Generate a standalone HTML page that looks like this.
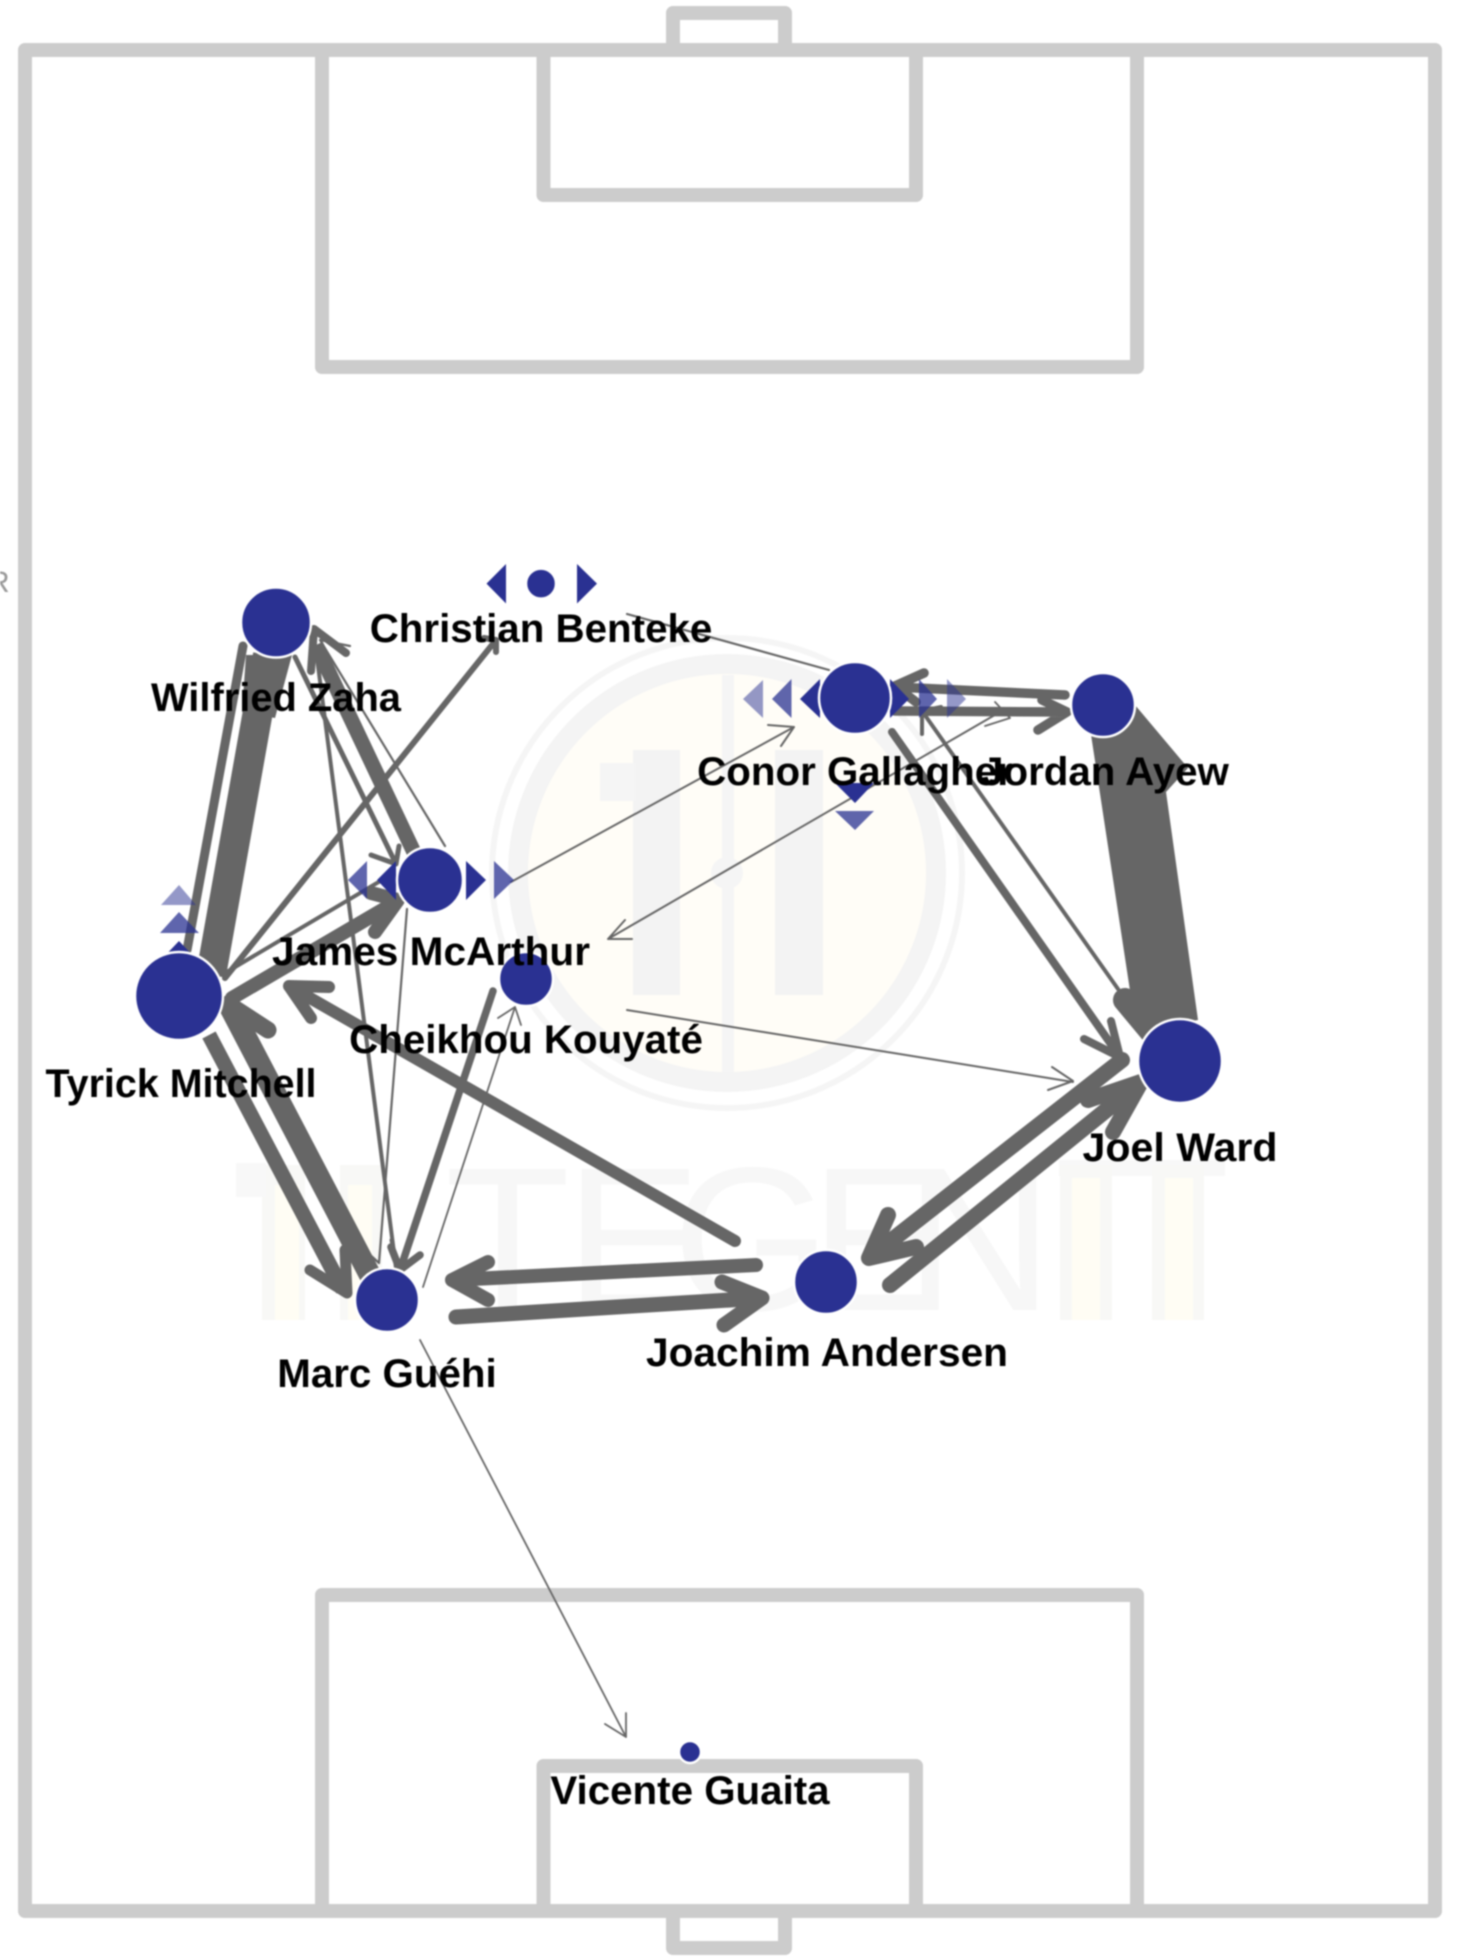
<!DOCTYPE html>
<html lang="en">
<head>
<meta charset="utf-8">
<title>Passing network</title>
<style>
html,body{margin:0;padding:0;background:#fff;width:1460px;height:1958px;overflow:hidden}
svg{display:block;filter:blur(.8px)}
.l{fill:none;stroke:#666;stroke-linecap:round;stroke-linejoin:round}
.f{fill:none;stroke:#ccc;stroke-width:14;stroke-linejoin:round;stroke-linecap:round}
.t{fill:#2a3192}
.n{fill:#2a3192;stroke:#fff;stroke-width:2.5}
.lb{font:bold 40.3px "Liberation Sans",Arial,sans-serif;fill:#000;text-anchor:middle}
.w{font:205px "Liberation Sans",Arial,sans-serif;fill:#f7f7f7}
</style>
</head>
<body>
<svg width="1460" height="1958" viewBox="0 0 1460 1958" xmlns="http://www.w3.org/2000/svg">
<rect width="1460" height="1958" fill="#fff"/>

<!-- watermark -->
<circle cx="727" cy="873" r="235" fill="none" stroke="#f5f5f5" stroke-width="6"/>
<circle cx="727" cy="873" r="209" fill="#fffdf7" stroke="#f4f4f4" stroke-width="20"/>
<rect x="722" y="675" width="12" height="397" fill="#f5f5f5"/>
<circle cx="727" cy="873" r="16" fill="#f5f5f5"/>
<rect x="633" y="750" width="47" height="245" fill="#f3f3f3"/>
<rect x="600" y="763" width="35" height="38" fill="#f5f5f5"/>
<rect x="775" y="750" width="48" height="245" fill="#f3f3f3"/>
<g>
<rect x="262" y="1165" width="43" height="155" fill="#f8f8f6"/><rect x="275" y="1185" width="24" height="135" fill="#fffdf4"/>
<rect x="340" y="1165" width="42" height="155" fill="#f8f8f6"/><rect x="348" y="1185" width="24" height="135" fill="#fffdf4"/>
<rect x="236" y="1163" width="30" height="34" fill="#f8f8f8"/>
<rect x="1059" y="1160" width="166" height="16" fill="#f8f8f8"/>
<rect x="1060" y="1165" width="52" height="155" fill="#f8f8f6"/><rect x="1072" y="1178" width="28" height="142" fill="#fffdf4"/>
<rect x="1152" y="1165" width="52" height="155" fill="#f8f8f6"/><rect x="1165" y="1178" width="28" height="142" fill="#fffdf4"/>
</g>
<text class="w" x="445" y="1310">T</text>
<text class="w" x="565" y="1310">E</text>
<text class="w" x="672" y="1310">G</text>
<text class="w" x="810" y="1310">E</text>
<text class="w" x="905" y="1310">N</text>

<!-- pitch -->
<text x="-12" y="592" font-family="Liberation Sans, sans-serif" font-size="30" fill="#999">R</text>
<g class="f">
<rect x="25" y="50" width="1410" height="1861"/>
<path d="M322 50V367H1137V50"/>
<path d="M543.5 50V195H916V50"/>
<path d="M673 50V13H785V50"/>
<path d="M322 1911V1595H1137V1911"/>
<path d="M543.5 1911V1766H916V1911"/>
<path d="M673 1911V1948H785V1911"/>
</g>

<!-- edges -->
<g class="l">
<!-- Mitchell / Zaha -->
<path stroke-width="30" stroke-linecap="butt" d="M211 975L268 655"/>
<path stroke-width="9" d="M243 646L187 950"/>
<!-- McArthur / Zaha -->
<path stroke-width="15" stroke-linecap="butt" d="M420 865L316 645"/>
<path stroke-width="8" d="M346 653L314 629L311 671"/>
<path stroke-width="5" d="M295 657L396 864M371 855L396 864L399 846"/>
<path stroke-width="2.2" d="M445 846L320 640M350 646L320 640"/>
<!-- Zaha -> Guehi -->
<path stroke-width="4" d="M316 650L396 1268"/>
<path stroke-width="3" d="M396 1268L391 1240"/>
<!-- McArthur -> Guehi -->
<path stroke-width="2.2" d="M407 909L379 1263M368 1253L379 1263"/>
<!-- Kouyate -> Guehi -->
<path stroke-width="7.5" d="M493 991L400 1270M391 1247L400 1270L420 1255"/>
<!-- Guehi -> Kouyate -->
<path stroke-width="1.8" d="M423 1287L515 1007M498 1018L515 1007L521 1025"/>
<!-- Andersen -> Mitchell -->
<path stroke-width="12" d="M735 1241L289 986M329 987L289 986L311 1018"/>
<!-- Guehi / Mitchell -->
<path stroke-width="22" stroke-linecap="butt" d="M371 1277L229 1005"/>
<path stroke-width="17" d="M268 1030L228 1004"/>
<path stroke-width="15" stroke-linecap="butt" d="M209 1035L343 1290"/>
<path stroke-width="11" d="M310 1270L347 1293L345 1250"/>
<!-- Mitchell / McArthur -->
<path stroke-width="14" d="M232 998L396 902M375 932L398 900L371 893"/>
<path stroke-width="4" d="M225 973L382 880"/>
<!-- Mitchell -> Benteke -->
<path stroke-width="6" d="M225 978L496 640M484 638L496 640L496 652"/>
<!-- Benteke -> Gallagher -->
<path stroke-width="2.2" d="M627 614L829 670"/>
<!-- McArthur -> Gallagher -->
<path stroke-width="2" d="M511 882L794 727M768 725L794 727L781 746"/>
<!-- Kouyate / Gallagher -->
<path stroke-width="2" d="M1000 712L608 939M632 939L608 939L625 920"/>
<path stroke-width="1.8" d="M985 726L1010 718L995 702"/>
<!-- Gallagher / Ayew -->
<path stroke-width="9.5" d="M895 711L1067 712M1038 730L1067 712L1042 700"/>
<path stroke-width="9.5" d="M1065 695L895 687M924 673L895 686L916 702"/>
<!-- Ward / Gallagher -->
<path stroke-width="4" d="M1118 989L922 711M922 734L922 711L941 707"/>
<path stroke-width="8" d="M892 732L1120 1057M1111 1021L1120 1057L1084 1039"/>
<!-- Kouyate -> Ward -->
<path stroke-width="2" d="M627 1010L1073 1082M1052 1067L1073 1081L1048 1090"/>
<!-- Ward / Andersen -->
<path stroke-width="16" d="M1122 1060L869 1258M888 1215L869 1258L916 1247"/>
<path stroke-width="16" d="M890 1285L1141 1082M1088 1100L1141 1082L1113 1132"/>
<!-- Andersen / Guehi -->
<path stroke-width="14" d="M756 1265L452 1280M488 1262L452 1280L488 1300"/>
<path stroke-width="15" d="M456 1317L762 1298M722 1282L762 1298L724 1325"/>
<!-- Guehi -> Guaita -->
<path stroke-width="1.8" d="M420 1340L626 1737M605 1724L626 1737L626 1713"/>
</g>
<!-- Zaha head fill -->
<path d="M246 655L292 655L275 718L242 712Z" fill="#666"/>
<!-- Ayew / Ward thick band -->
<path d="M1090 728L1136 1030L1198 1020L1166 792L1188 768L1135 705Z" fill="#666"/>
<path d="M1125 1000L1175 1060" stroke="#666" stroke-width="24" stroke-linecap="round"/>

<!-- markers -->
<g class="t">
<path d="M506 564L486.5 583.6L506 603.5ZM577 564L597 583.6L577 603.5Z"/>
<path d="M396 861L377 880L396 900ZM466 861L486 880L466 900Z"/>
<path opacity=".75" d="M367 861L348 880L367 899ZM494 861L514 880L494 899Z"/>
<path opacity=".5" d="M161 905L179 885L196 905Z"/>
<path opacity=".75" d="M160 933L179 912L199 933Z"/>
<path d="M160 961L179 941L198 961Z"/>
<path opacity=".5" d="M763 680L743 699L763 718ZM947 679L966 699L947 718Z"/>
<path opacity=".75" d="M791.5 679L772 699L791.5 718ZM919 679L937 699L919 718Z"/>
<path d="M820 679L800 699L820 718ZM890 679L909 699L890 718Z"/>
<path d="M835 783L855 803L874 783Z"/>
<path opacity=".75" d="M835 811L855 830L874 811Z"/>
</g>

<!-- nodes -->
<circle class="n" cx="276" cy="622.5" r="35"/>
<circle class="n" cx="541" cy="583.6" r="15"/>
<circle class="n" cx="430" cy="880" r="33"/>
<circle class="n" cx="179" cy="996" r="44"/>
<circle class="n" cx="526" cy="979" r="27"/>
<circle class="n" cx="855" cy="698" r="36"/>
<circle class="n" cx="1103" cy="705" r="32"/>
<circle class="n" cx="1180" cy="1061" r="42"/>
<circle class="n" cx="387" cy="1300" r="32"/>
<circle class="n" cx="826" cy="1282" r="32"/>
<circle class="n" cx="690" cy="1752" r="11"/>

<!-- labels -->
<text class="lb" x="276" y="711" textLength="250" lengthAdjust="spacingAndGlyphs">Wilfried Zaha</text>
<text class="lb" x="541" y="642">Christian Benteke</text>
<text class="lb" x="431" y="965" textLength="318" lengthAdjust="spacingAndGlyphs">James McArthur</text>
<text class="lb" x="181" y="1097" textLength="271" lengthAdjust="spacingAndGlyphs">Tyrick Mitchell</text>
<text class="lb" x="526" y="1053">Cheikhou Kouyaté</text>
<text class="lb" x="855" y="785">Conor Gallagher</text>
<text class="lb" x="1105" y="785">Jordan Ayew</text>
<text class="lb" x="1180" y="1161" textLength="195" lengthAdjust="spacingAndGlyphs">Joel Ward</text>
<text class="lb" x="387" y="1387">Marc Guéhi</text>
<text class="lb" x="827" y="1366" textLength="362" lengthAdjust="spacingAndGlyphs">Joachim Andersen</text>
<text class="lb" x="690" y="1804">Vicente Guaita</text>
</svg>
</body>
</html>
